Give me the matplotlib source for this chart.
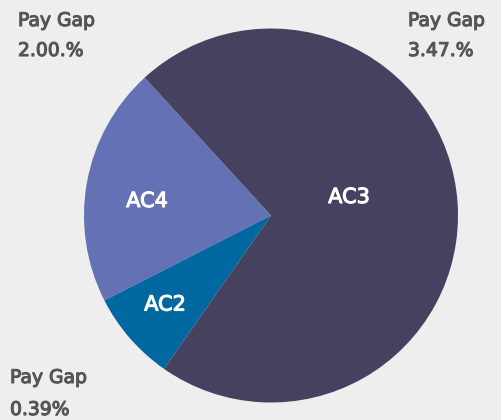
import matplotlib
matplotlib.use("Agg")
import matplotlib.pyplot as plt
import matplotlib.patheffects as pe

categories = ["AC4", "AC2", "AC3"]
shares = [20.7, 7.8, 71.5]
colors = ["#6471b4", "#0068a0", "#46415e"]
gap_titles = ["Pay Gap", "Pay Gap", "Pay Gap"]
gap_values = ["2.00.%", "3.47.%", "0.39%"]

W, H = 501, 420
fig = plt.figure(figsize=(W / 100, H / 100), dpi=100, facecolor="#eeeeee")
cx, cy, r = 271, 215.5, 187
ax = fig.add_axes([(cx - r) / W, (H - cy - r) / H, 2 * r / W, 2 * r / H])
ax.set_facecolor("#eeeeee")
wedges, _ = ax.pie(shares, colors=colors, startangle=132.5, counterclock=True,
                   radius=1, wedgeprops=dict(linewidth=0))
ax.set_xlim(-1, 1)
ax.set_ylim(-1, 1)
ax.set_aspect("equal")
ax.axis("off")

font = "DejaVu Sans"
white_fx = [pe.withStroke(linewidth=0.8, foreground="white")]
grey_fx = [pe.withStroke(linewidth=0.8, foreground="#555555")]
# slice labels (pixel positions: center x, baseline y)
for name, (px, py) in zip(categories, [(147, 207), (165, 310.5), (349, 203)]):
    fig.text(px / W, 1 - py / H, name, color="white", fontsize=15, family=font,
             ha="center", va="baseline", path_effects=white_fx)

# pay gap labels: (left x, title baseline, value baseline)
for t, v, (px, b1, b2) in zip(gap_titles, gap_values,
                              [(18, 26, 56), (408, 26, 56), (10, 383, 415)]):
    fig.text(px / W, 1 - b1 / H, t, color="#555555", fontsize=13.5, family=font,
             ha="left", va="baseline", path_effects=grey_fx)
    fig.text(px / W, 1 - b2 / H, v, color="#555555", fontsize=13.5, family=font,
             ha="left", va="baseline", path_effects=grey_fx)

fig.savefig("out.png", dpi=100, facecolor=fig.get_facecolor())
